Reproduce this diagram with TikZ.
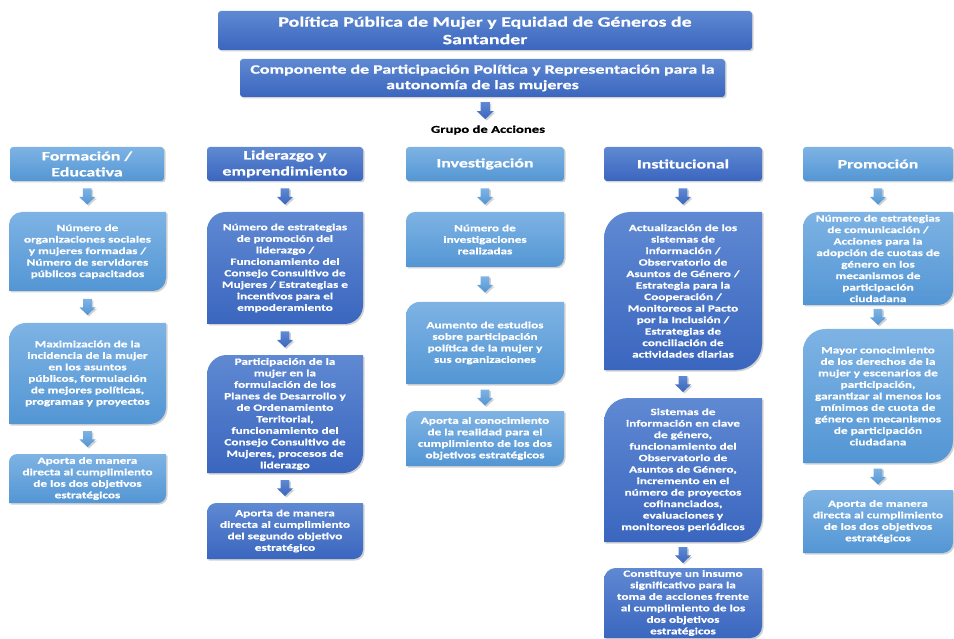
\documentclass[tikz,border=0pt]{standalone}
\usepackage{fontspec}
\newfontfamily\cf{Carlito}[FakeStretch=1.4,FakeBold=0.7]
\usetikzlibrary{calc,shadows,backgrounds}
\definecolor{ltop}{HTML}{7EB3E4}
\definecolor{lbot}{HTML}{5396D4}
\definecolor{dtop}{HTML}{5F89D2}
\definecolor{dbot}{HTML}{3A66BF}
\tikzset{
  shd/.style={drop shadow={opacity=0.35, shadow xshift=1.5pt, shadow yshift=-1.5pt}},
  lt/.style={top color=ltop, bottom color=lbot, shd},
  dk/.style={top color=dtop, bottom color=dbot, shd},
  bodytext/.style={inner sep=0pt, outer sep=0pt, align=center, text=white,
    font=\cf\bfseries\fontsize{9.45}{11.5}\selectfont},
  headtext/.style={inner sep=0pt, outer sep=0pt, align=center, text=white,
    font=\cf\bfseries\fontsize{12.8}{16}\selectfont},
  titletext/.style={inner sep=0pt, outer sep=0pt, align=center, text=white,
    font=\cf\bfseries\fontsize{14.2}{17.5}\selectfont},
  comptext/.style={inner sep=0pt, outer sep=0pt, align=center, text=white,
    font=\cf\bfseries\fontsize{12.8}{15.5}\selectfont},
  labeltext/.style={inner sep=1pt, align=center, text=black,
    font=\cf\bfseries\fontsize{10.5}{12}\selectfont},
}
% content box: rounded top-left and bottom-right corners
\newcommand\mkbox[7]{%
  \pgfmathsetmacro\bw{#5-#3}\pgfmathsetmacro\bh{#6-#4}%
  \pgfmathsetmacro\br{0.1667*min(\bw,\bh)}%
  \node[bodytext, minimum width=\bw pt, minimum height=\bh pt] (#1) at ({(#3+#5)/2},{-(#4+#6)/2}) {#7};
  \begin{pgfonlayer}{background}
    \path[#2] (#1.south west) -- ([yshift=-\br pt]#1.north west)
      arc[start angle=180,end angle=90,radius=\br pt] -- (#1.north east)
      -- ([yshift=\br pt]#1.south east)
      arc[start angle=0,end angle=-90,radius=\br pt] -- cycle;
  \end{pgfonlayer}}
% header / title box: small rounded corners
\newcommand\mkhead[8]{%
  \pgfmathsetmacro\bw{#6-#4}\pgfmathsetmacro\bh{#7-#5}%
  \node[#2, minimum width=\bw pt, minimum height=\bh pt] (#1) at ({(#4+#6)/2},{-(#5+#7)/2}) {#8};
  \begin{pgfonlayer}{background}
    \path[#3, rounded corners=3pt] (#1.south west) rectangle (#1.north east);
  \end{pgfonlayer}}
% block arrow centred in the gap between two nodes
\newcommand\barrow[4]{%
  \path[#3] let \p1=($(#1.south)!0.5!(#2.north)$) in
    (\x1-0.55*#4,\y1+#4) -- (\x1+0.55*#4,\y1+#4) -- (\x1+0.55*#4,\y1-0.05*#4)
    -- (\x1+#4,\y1-0.05*#4) -- (\x1,\y1-#4) -- (\x1-#4,\y1-0.05*#4)
    -- (\x1-0.55*#4,\y1-0.05*#4) -- cycle;}
\begin{document}
\begin{tikzpicture}[x=1pt,y=1pt]
\begin{pgfonlayer}{background}
\fill[white] (0,0) rectangle (954,-639);
\end{pgfonlayer}
\useasboundingbox (0,0) rectangle (954,-639);

\mkhead{title}{titletext}{dk}{218}{11}{752}{50}{Política Pública de Mujer y Equidad de Géneros de\\Santander}
\mkhead{comp}{comptext}{dk}{240}{59}{725}{97}{Componente de Participación Política y Representación para la\\autonomía de las mujeres}
\node[labeltext] (grupo) at (488,-130) {Grupo de Acciones};
\barrow{comp}{grupo}{dk}{8.5pt}

% headers
\mkhead{h1}{headtext}{lt}{10}{147}{164}{181}{Formación /\\Educativa}
\mkhead{h2}{headtext}{dk}{207}{147}{363}{181}{Liderazgo y\\emprendimiento}
\mkhead{h3}{headtext}{lt}{406}{147}{564}{181}{Investigación}
\mkhead{h4}{headtext}{dk}{604}{147}{762}{181}{Institucional}
\mkhead{h5}{headtext}{lt}{803}{147}{953}{181}{Promoción}

% column 1
\mkbox{a1}{lt}{9}{212}{166}{291}{Número de\\organizaciones sociales\\y mujeres formadas /\\Número de servidores\\públicos capacitados}
\mkbox{a2}{lt}{9}{323}{166}{424}{Maximización de la\\incidencia de la mujer\\en los asuntos\\públicos, formulación\\de mejores políticas,\\programas y proyectos}
\mkbox{a3}{lt}{9}{454}{166}{503}{Aporta de manera\\directa al cumplimiento\\de los dos objetivos\\estratégicos}
\barrow{h1}{a1}{lt}{8pt}
\barrow{a1}{a2}{lt}{8pt}
\barrow{a2}{a3}{lt}{8pt}

% column 2
\mkbox{b1}{dk}{207}{212}{363}{324}{Número de estrategias\\de promoción del\\liderazgo /\\Funcionamiento del\\Consejo Consultivo de\\Mujeres / Estrategias e\\incentivos para el\\empoderamiento}
\mkbox{b2}{dk}{207}{355}{363}{473}{Participación de la\\mujer en la\\formulación de los\\Planes de Desarrollo y\\de Ordenamiento\\Territorial,\\funcionamiento del\\Consejo Consultivo de\\Mujeres, procesos de\\liderazgo}
\mkbox{b3}{dk}{207}{503}{363}{559}{Aporta de manera\\directa al cumplimiento\\del segundo objetivo\\estratégico}
\barrow{h2}{b1}{dk}{8pt}
\barrow{b1}{b2}{dk}{8pt}
\barrow{b2}{b3}{dk}{8pt}

% column 3
\mkbox{c1}{lt}{406}{212}{564}{267}{Número de\\investigaciones\\realizadas}
\mkbox{c2}{lt}{406}{302}{564}{384}{Aumento de estudios\\sobre participación\\política de la mujer y\\sus organizaciones}
\mkbox{c3}{lt}{406}{411}{564}{466}{Aporta al conocimiento\\de la realidad para el\\cumplimiento de los dos\\objetivos estratégicos}
\barrow{h3}{c1}{lt}{8pt}
\barrow{c1}{c2}{lt}{8pt}
\barrow{c2}{c3}{lt}{8pt}

% column 4
\mkbox{d1}{dk}{604}{212}{762}{370}{Actualización de los\\sistemas de\\información /\\Observatorio de\\Asuntos de Género /\\Estrategia para la\\Cooperación /\\Monitoreos al Pacto\\por la Inclusión /\\Estrategias de\\conciliación de\\actividades diarias}
\mkbox{d2}{dk}{604}{398}{762}{542}{Sistemas de\\información en clave\\de género,\\funcionamiento del\\Observatorio de\\Asuntos de Género,\\incremento en el\\número de proyectos\\cofinanciados,\\evaluaciones y\\monitoreos periódicos}
\mkbox{d3}{dk}{604}{568}{762}{638}{Constituye un insumo\\significativo para la\\toma de acciones frente\\al cumplimiento de los\\dos objetivos\\estratégicos}
\barrow{h4}{d1}{dk}{8pt}
\barrow{d1}{d2}{dk}{8pt}
\barrow{d2}{d3}{dk}{8pt}

% column 5
\mkbox{e1}{lt}{803}{212}{953}{305}{Número de estrategias\\de comunicación /\\Acciones para la\\adopción de cuotas de\\género en los\\mecanismos de\\participación\\ciudadana}
\mkbox{e2}{lt}{803}{329}{953}{463}{Mayor conocimiento\\de los derechos de la\\mujer y escenarios de\\participación,\\garantizar al menos los\\mínimos de cuota de\\género en mecanismos\\de participación\\ciudadana}
\mkbox{e3}{lt}{803}{490}{953}{553}{Aporta de manera\\directa al cumplimiento\\de los dos objetivos\\estratégicos}
\barrow{h5}{e1}{lt}{8pt}
\barrow{e1}{e2}{lt}{8pt}
\barrow{e2}{e3}{lt}{8pt}
\end{tikzpicture}
\end{document}
